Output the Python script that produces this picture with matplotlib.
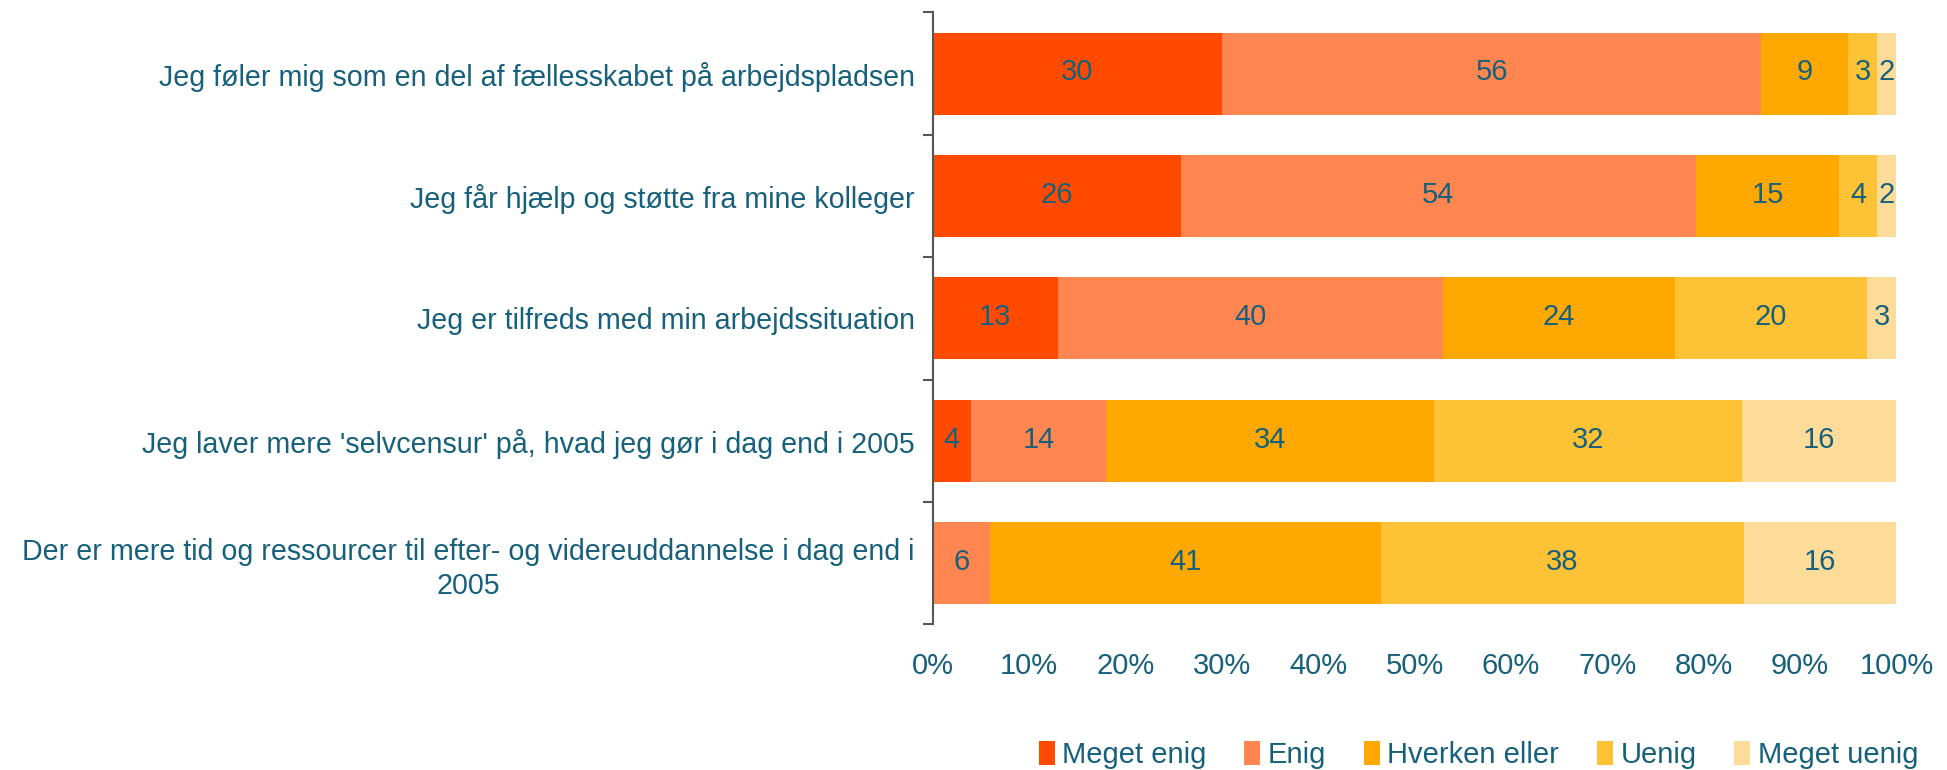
import numpy as np
import matplotlib.pyplot as plt
from matplotlib.patches import Patch

plt.rcParams['font.family'] = ['Liberation Sans', 'DejaVu Sans']

statements = [
    "Jeg føler mig som en del af fællesskabet på arbejdspladsen",
    "Jeg får hjælp og støtte fra mine kolleger",
    "Jeg er tilfreds med min arbejdssituation",
    "Jeg laver mere 'selvcensur' på, hvad jeg gør i dag end i 2005",
    "Der er mere tid og ressourcer til efter- og videreuddannelse i dag end i\n2005",
]
answers = ["Meget enig", "Enig", "Hverken eller", "Uenig", "Meget uenig"]

meget_enig = [30, 26, 13, 4, 0]
enig = [56, 54, 40, 14, 6]
hverken = [9, 15, 24, 34, 41]
uenig = [3, 4, 20, 32, 38]
meget_uenig = [2, 2, 3, 16, 16]

colors = ['#FF4A00', '#FF8650', '#FFA800', '#FDC235', '#FDDC9A']
text_col = '#17607B'
fs = 20.6

data = np.array([meget_enig, enig, hverken, uenig, meget_uenig], dtype=float)
shares = data / data.sum(axis=0) * 100

fig = plt.figure(figsize=(19.47, 7.7), dpi=100)
ax = fig.add_axes([0.479, 0.189, 0.495, 0.795])

y = np.arange(len(statements))
left = np.zeros(len(statements))
for i, name in enumerate(answers):
    ax.barh(y, shares[i], left=left, height=0.67, color=colors[i], label=name)
    for j in range(len(statements)):
        if data[i, j] > 0:
            ax.text(left[j] + shares[i, j] / 2, y[j] - 0.01, f'{int(data[i, j])}',
                    ha='center', va='center', fontsize=21, color=text_col)
    left += shares[i]

ax.set_xlim(0, 100)
ax.set_ylim(len(statements) - 0.5, -0.5)

# tick marks on category boundaries, labels in the middle
ax.set_yticks(np.arange(-0.5, len(statements), 1.0))
ax.set_yticklabels([])
ax.set_yticks(y, minor=True)
ax.set_yticklabels(statements, minor=True)
ax.tick_params(axis='y', which='major', length=7, width=1.5, color='#555555', direction='out')
ax.tick_params(axis='y', which='minor', length=0, pad=13, labelsize=fs, labelcolor=text_col)
for lab in ax.get_yticklabels(minor=True):
    lab.set_multialignment('center')
    lab.set_linespacing(1.25)

ax.set_xticks(np.arange(0, 101, 10))
ax.set_xticklabels([f'{v}%' for v in range(0, 101, 10)])
ax.tick_params(axis='x', length=0, pad=20, labelsize=21, labelcolor=text_col)

for s in ['top', 'right', 'bottom']:
    ax.spines[s].set_visible(False)
ax.spines['left'].set_color('#555555')
ax.spines['left'].set_linewidth(1.5)

handles = [Patch(facecolor=c, label=a) for c, a in zip(colors, answers)]
fig.legend(handles=handles, loc='center', bbox_to_anchor=(0.7593, 0.02), ncol=5,
           frameon=False, fontsize=21, handlelength=0.55, handleheight=0.9,
           handletextpad=0.25, columnspacing=1.3, labelcolor=text_col)

plt.savefig('out.png', dpi=100)
